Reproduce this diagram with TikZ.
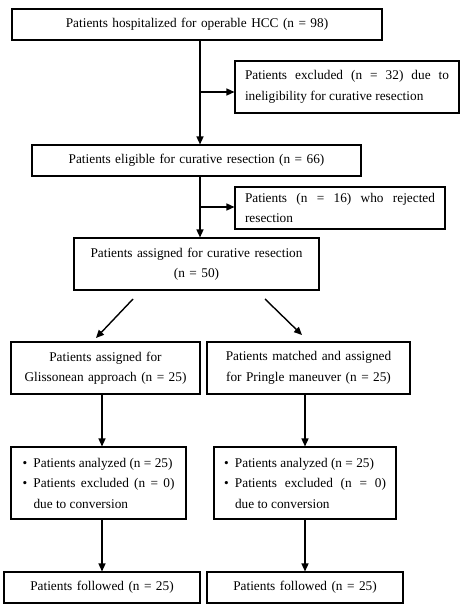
\documentclass[tikz,border=0pt]{standalone}
\usepackage{fontspec}
\setmainfont{Liberation Serif}
\usetikzlibrary{arrows.meta}
\newcommand\bul{\makebox[11pt][l]{\textbullet}}
\newcommand\hang{\hspace*{11pt}}
\begin{document}
\begin{tikzpicture}[x=1pt,y=-1pt,
  box/.style={draw, line width=1.1pt, inner sep=0pt, align=center,
    font=\fontsize{13.3}{20.5}\selectfont},
  jbox/.style={box, align=justify},
  lbox/.style={box, align=left},
  arr/.style={line width=1.4pt, -{Triangle[length=8pt,width=7pt]}}]
\useasboundingbox (0,0) rectangle (463,609);
\node[box, minimum width=370, minimum height=31, text width=360] (b1) at (197,24.5)
  {Patients hospitalized for operable HCC (n = 98)};
\node[jbox, minimum width=224, minimum height=52, text width=204] (e1) at (347,87)
  {Patients excluded (n = 32) due to\linebreak ineligibility for curative resection};
\node[box, minimum width=329, minimum height=31, text width=320] (b2) at (196.5,160.5)
  {Patients eligible for curative resection (n = 66)};
\node[jbox, minimum width=210, minimum height=42, text width=190] (e2) at (340,208)
  {Patients (n = 16) who rejected\linebreak resection};
\node[box, minimum width=245, minimum height=52, text width=240] (b3) at (196.5,264)
  {Patients assigned for curative resection\\(n = 50)};
\node[box, minimum width=189, minimum height=52, text width=185] (b4L) at (105.5,368)
  {Patients assigned for\\Glissonean approach (n = 25)};
\node[box, minimum width=203, minimum height=52, text width=200] (b4R) at (308.5,368)
  {Patients matched and assigned\\for Pringle maneuver (n = 25)};
\node[lbox, minimum width=175, minimum height=72] (b5L) at (98.5,483)
  {\bul Patients analyzed (n = 25)\\
   \bul\makebox[141pt][s]{Patients excluded (n = 0)}\\
   \hang due to conversion};
\node[lbox, minimum width=182, minimum height=72] (b5R) at (305,483)
  {\bul Patients analyzed (n = 25)\\
   \bul\makebox[151pt][s]{Patients excluded (n = 0)}\\
   \hang due to conversion};
\node[box, minimum width=196, minimum height=31, text width=190] (b6L) at (102,587.5)
  {Patients followed (n = 25)};
\node[box, minimum width=196, minimum height=31, text width=190] (b6R) at (305,587.5)
  {Patients followed (n = 25)};
\coordinate (j1) at (200,92);
\coordinate (j2) at (200,207);
\coordinate (cL) at (102,0);
\coordinate (cR) at (305,0);
\coordinate (d1s) at (133,299);
\coordinate (d1e) at (96,338);
\coordinate (d2s) at (265,299);
\coordinate (d2e) at (302,335);
\draw[arr] (j1 |- b1.south) -- (j1 |- b2.north);
\draw[arr] (j1) -- (e1.west |- j1);
\draw[arr] (j2 |- b2.south) -- (j2 |- b3.north);
\draw[arr] (j2) -- (e2.west |- j2);
\draw[arr] (d1s) -- (d1e);
\draw[arr] (d2s) -- (d2e);
\draw[arr] (cL |- b4L.south) -- (cL |- b5L.north);
\draw[arr] (cR |- b4R.south) -- (cR |- b5R.north);
\draw[arr] (cL |- b5L.south) -- (cL |- b6L.north);
\draw[arr] (cR |- b5R.south) -- (cR |- b6R.north);
\end{tikzpicture}
\end{document}
